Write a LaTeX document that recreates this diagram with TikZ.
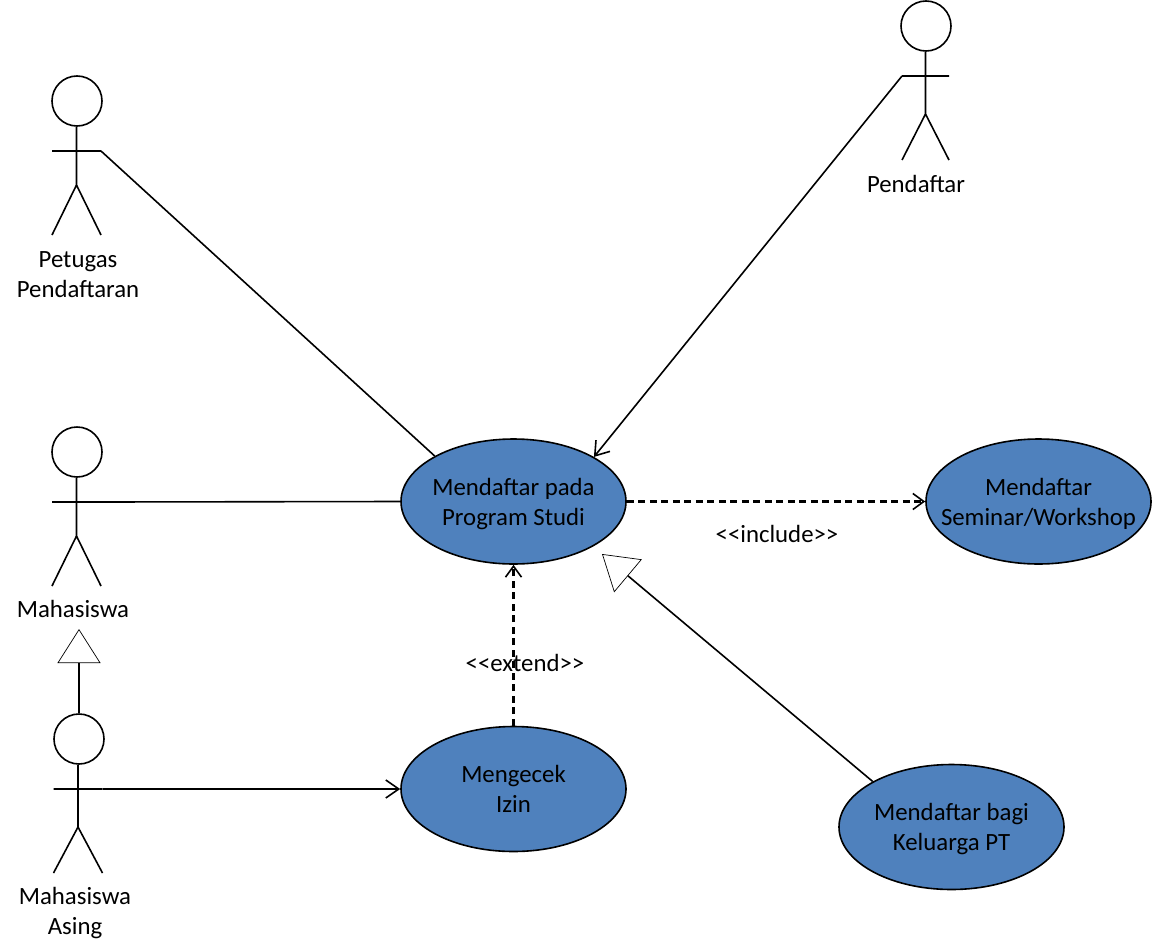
\documentclass[tikz,border=0pt]{standalone}
\usepackage{fontspec}
\setmainfont{Carlito}
\usetikzlibrary{arrows.meta,shapes.geometric}
\definecolor{ucblue}{HTML}{4F81BD}
\newcommand{\dnrule}[1]{\rule{0pt}{#1pt}}
\tikzset{
  x=1pt,y=-1pt,
  uc/.style={ellipse,draw=black,fill=ucblue,line width=1.6pt,minimum width=225pt,minimum height=125pt,inner sep=-30pt,align=center,font=\fontsize{24.8}{30}\selectfont},
  lbl/.style={align=center,inner sep=0pt,font=\fontsize{24.8}{30}\selectfont},
  ln/.style={line width=1.6pt,draw=black},
  assocarrow/.style={ln,-{Straight Barb[length=13pt,width=18pt,line width=1.6pt]}},
  dasharrow/.style={line width=2.1pt,draw=black,dash pattern=on 7pt off 4.5pt,-{Straight Barb[length=11pt,width=16pt,line width=1.6pt]}},
  genarrow/.style={ln,-{Triangle[open,length=34pt,width=43pt,line width=0.7pt,fill=white]}},
}
\newcommand{\actor}[7]{% name, head x, head y, body x, arm half, crotch y, feet y
  \node[circle,draw=black,fill=white,line width=1.6pt,minimum size=50pt,inner sep=0pt] (#1h) at (#2,#3) {};
  \coordinate (#1c) at (#4,#6);
  \coordinate (#1a) at (#4-#5,#3+50);
  \coordinate (#1b) at (#4+#5,#3+50);
  \coordinate (#1l) at (#4-#5,#7);
  \coordinate (#1r) at (#4+#5,#7);
  \draw[ln] (#1h.south -| #1c)--(#1c) (#1a)--(#1b) (#1l)--(#1c)--(#1r);
}
\begin{document}
\begin{tikzpicture}
\useasboundingbox (0,0) rectangle (1153,950);
\actor{p}{77}{101}{76.5}{24.5}{185}{235}
\actor{d}{926}{26}{925.5}{23.5}{114}{160}
\actor{m}{77}{452}{76.5}{24.5}{536}{586}
\actor{a}{79}{739}{78}{24.5}{827}{873}
\node[lbl] at (78,275) {Petugas\\Pendaftaran};
\node[lbl] at (916,184) {Pendaftar};
\node[lbl] at (73,609) {Mahasiswa};
\node[lbl] at (75,913) {Mahasiswa\\Asing};
\node[uc] (u1) at (513.5,501.5) {\dnrule{23}Mendaftar pada\\Program Studi};
\node[uc] (u2) at (1038.5,501.5) {\dnrule{21}Mendaftar\\Seminar/Workshop};
\node[uc] (u3) at (513.5,789) {Mengecek\\Izin};
\node[uc] (u4) at (951.5,827) {\dnrule{21}Mendaftar bagi\\Keluarga PT};
\coordinate (g1) at (79,629);
\coordinate (g2) at (602,554);
\draw[ln] (pb) -- (u1.150.5);
\draw[assocarrow] (da) -- (u1.29);
\draw[ln] (mb) -- (u1.west);
\draw[assocarrow] (ab) -- (u3.west);
\draw[genarrow] (ah.north) -- (g1);
\draw[dasharrow] (u1.east) -- (u2.west);
\draw[dasharrow] (u3.north) -- (u1.south);
\draw[genarrow] (u4.150.5) -- (g2);
\node[lbl] at (777,534) {<{}<include>{}>};
\node[lbl] at (525,663) {<{}<extend>{}>};
\end{tikzpicture}
\end{document}
